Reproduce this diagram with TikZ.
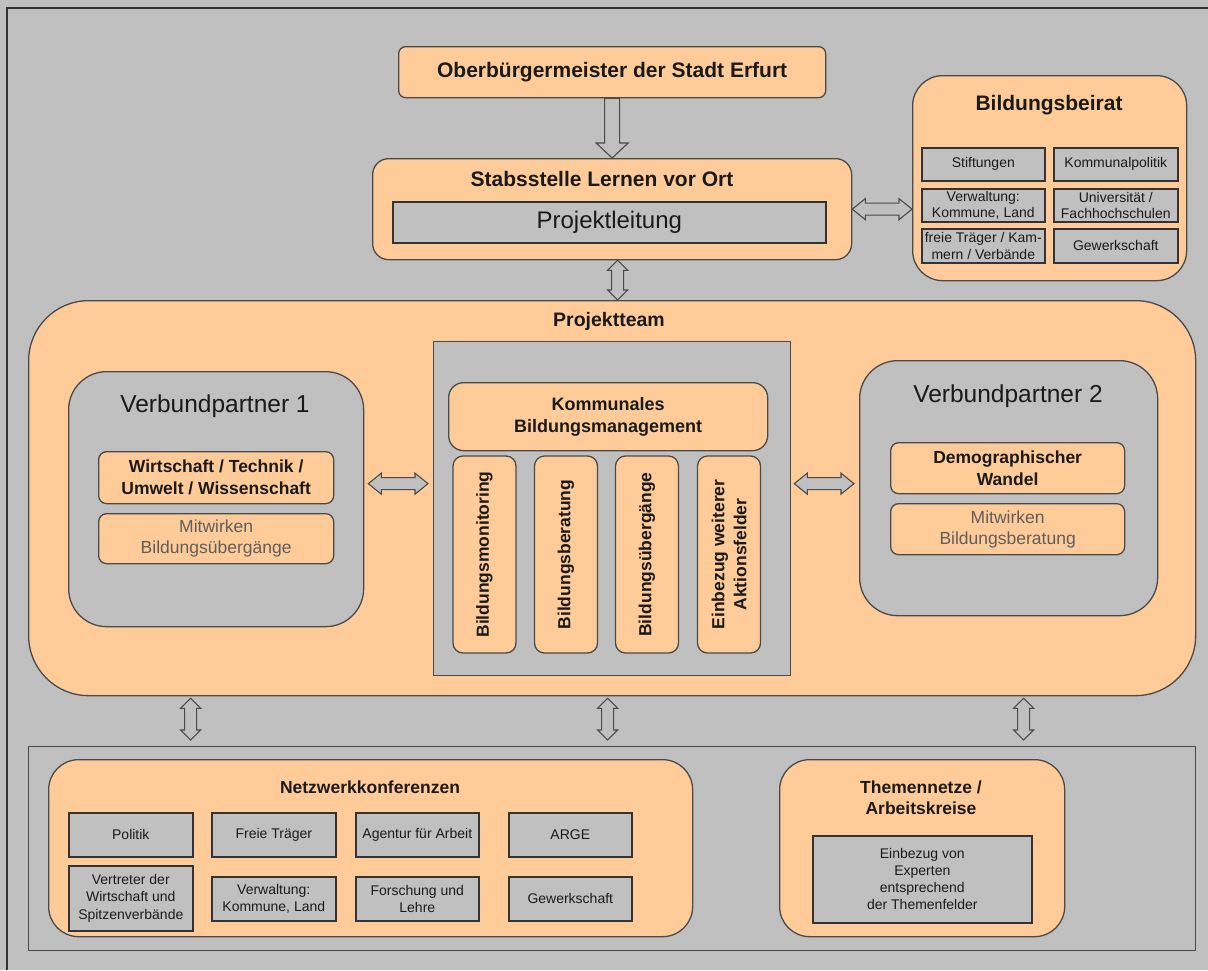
\documentclass[tikz,border=0pt]{standalone}
\usepackage{fontspec}
\setmainfont{Liberation Sans}
\usetikzlibrary{calc}
\definecolor{bg}{HTML}{C0C0C0}
\definecolor{org}{HTML}{FFCC99}
\definecolor{lc}{HTML}{4A4A4A}
\definecolor{dk}{HTML}{333333}
\definecolor{tc}{HTML}{1A1A1A}
\definecolor{mt}{HTML}{5E5E5E}
\newcommand\fs[2]{\fontsize{#1}{#2}\selectfont}
\newcommand\place[7]{\node[#1, anchor=north west, minimum width={(#5)-(#3)}, minimum height={(#6)-(#4)}] (#2) at (#3,#4) {#7};}
% vertical double block arrow between two named points (top, bottom)
\newcommand\vdarrow[2]{\draw[harrow] (#1) -- ++(10,10) -- ++(-4,0) -- ($(#2)+(6,-10)$) -- ++(4,0) -- (#2) -- ++(-10,-10) -- ++(4,0) -- ($(#1)+(-6,10)$) -- ++(-4,0) -- cycle;}
% horizontal double block arrow between two named points (left, right)
\newcommand\hdarrow[2]{\draw[harrow] (#1) -- ++(13,-10.5) -- ++(0,4.5) -- ($(#2)+(-13,-6)$) -- ++(0,-4.5) -- (#2) -- ++(-13,10.5) -- ++(0,-4.5) -- ($(#1)+(13,6)$) -- ++(0,4.5) -- cycle;}
\tikzset{
  obox/.style={draw=lc, fill=org, line width=1.3pt, inner sep=0pt, align=center, text=tc},
  gbox/.style={draw=lc, fill=bg, line width=1.3pt, inner sep=0pt, align=center, text=tc},
  sbox/.style={draw=dk, fill=bg, line width=1.6pt, inner sep=0pt, align=center, text=tc, font=\fs{14}{16.5}},
  nbox/.style={draw=dk, fill=bg, line width=1.6pt, inner sep=0pt, align=center, text=tc, font=\fs{14}{17.5}},
  harrow/.style={draw=lc, fill=bg, line width=1.1pt, line join=miter},
  ttl/.style={inner sep=0pt, text=tc, align=center},
  pillar/.style={obox, rounded corners=10pt, rotate=90, minimum width=197, minimum height=63, font=\bfseries\fs{17.5}{22}}
}
\begin{document}
\begin{tikzpicture}[x=1pt,y=-1pt]
\fill[bg] (0,0) rectangle (1208,970);
\useasboundingbox (0,0) rectangle (1208,970);
\draw[dk, line width=1.5pt] (7,970) -- (7,8) -- (1208,8);

% top
\place{obox, rounded corners=7pt, font=\bfseries\fs{21}{25}}{ob}{398}{46}{825}{97}{Oberbürgermeister der Stadt Erfurt}
\place{obox, rounded corners=16pt}{st}{372}{158}{851}{259}{}
\node[ttl, font=\bfseries\fs{21}{25}] (stt) at (602,179) {Stabsstelle Lernen vor Ort};
\place{gbox, draw=dk, line width=1.6pt, font=\fs{24}{28}}{pl}{392}{201}{825}{242}{Projektleitung}

% Bildungsbeirat
\place{obox, rounded corners=30pt}{bb}{912}{75}{1186}{280}{}
\node[ttl, font=\bfseries\fs{21}{25}] (bbt) at (1049,105) {Bildungsbeirat};
\place{sbox}{b1}{921}{147}{1044}{180}{Stiftungen}
\place{sbox}{b2}{1053}{147}{1177}{180}{Kommunalpolitik}
\place{sbox}{b3}{921}{188}{1044}{221}{Verwaltung:\\Kommune, Land}
\place{sbox}{b4}{1053}{188}{1177}{221}{Universität /\\Fachhochschulen}
\place{sbox}{b5}{921}{228}{1044}{262}{freie Träger / Kam-\\mern / Verbände}
\place{sbox}{b6}{1053}{228}{1177}{262}{Gewerkschaft}

% Projektteam
\place{obox, rounded corners=60pt}{pt}{28}{300}{1195}{695}{}
\node[ttl, font=\bfseries\fs{19.5}{23}] (ptt) at (609,321) {Projektteam};
\place{gbox}{ctr}{433}{341}{790}{675}{}
\place{obox, rounded corners=15pt, font=\bfseries\fs{18}{22}}{km}{448}{382}{767}{450}{Kommunales\\Bildungsmanagement}
\node[pillar] (p1) at (484.5,554.5) {Bildungsmonitoring};
\node[pillar] (p2) at (566,554.5) {Bildungsberatung};
\node[pillar] (p3) at (647,554.5) {Bildungsübergänge};
\node[pillar] (p4) at (729,554.5) {Einbezug weiterer\\Aktionsfelder};

\place{gbox, rounded corners=38pt}{vp1}{68}{371}{363}{626}{}
\node[ttl, font=\fs{24.5}{28}] (vp1t) at (215,406) {Verbundpartner 1};
\place{obox, rounded corners=8pt, font=\bfseries\fs{17.5}{22}}{w1}{98}{451}{333}{503}{Wirtschaft / Technik /\\Umwelt / Wissenschaft}
\place{obox, rounded corners=8pt, font=\fs{17.5}{21}, text=mt}{m1}{98}{513}{333}{563}{Mitwirken\\Bildungsübergänge}

\place{gbox, rounded corners=38pt}{vp2}{859}{360}{1157}{615}{}
\node[ttl, font=\fs{24.5}{28}] (vp2t) at (1008,396) {Verbundpartner 2};
\place{obox, rounded corners=8pt, font=\bfseries\fs{17.5}{22}}{d2}{890}{442}{1124}{493}{Demographischer\\Wandel}
\place{obox, rounded corners=8pt, font=\fs{17.5}{21}, text=mt}{m2}{890}{503}{1124}{554}{Mitwirken\\Bildungsberatung}

% bottom
\place{gbox}{nc}{28}{746}{1195}{950}{}
\place{obox, rounded corners=30pt}{nk}{48}{759}{692}{936}{}
\node[ttl, font=\bfseries\fs{17.5}{22}] (nkt) at (370,787) {Netzwerkkonferenzen};
\place{nbox}{n1}{68}{812}{192}{856}{Politik}
\place{nbox}{n2}{211}{812}{335}{856}{Freie Träger}
\place{nbox}{n3}{355}{812}{478}{856}{Agentur für Arbeit}
\place{nbox}{n4}{508}{812}{631}{856}{ARGE}
\place{nbox}{n5}{68}{865}{192}{930}{Vertreter der\\Wirtschaft und\\Spitzenverbände}
\place{nbox}{n6}{211}{876}{335}{920}{Verwaltung:\\Kommune, Land}
\place{nbox}{n7}{355}{876}{478}{920}{Forschung und\\Lehre}
\place{nbox}{n8}{508}{876}{631}{920}{Gewerkschaft}

\place{obox, rounded corners=30pt}{tn}{779}{759}{1064}{936}{}
\node[ttl, font=\bfseries\fs{17.5}{21}] (tnt) at (921,798) {Themennetze /\\Arbeitskreise};
\place{gbox, draw=dk, line width=1.6pt, font=\fs{14}{17}}{tnb}{812}{835}{1031}{922}{Einbezug von\\Experten\\entsprechend\\der Themenfelder}

% connectors
\draw[harrow] ($(ob.south)+(-7.5,0)$) -- ($(st.north)+(-7.5,-15)$) -- ($(st.north)+(-16,-15)$) -- (st.north) -- ($(st.north)+(16,-15)$) -- ($(st.north)+(7.5,-15)$) -- ($(ob.south)+(7.5,0)$) -- cycle;

\coordinate (a1) at ($(st.south)+(5.5,0)$);
\coordinate (a2) at ($(pt.north)+(5.5,0)$);
\vdarrow{a1}{a2}

\coordinate (h2) at (st.east -| bb.west);
\hdarrow{st.east}{h2}

\coordinate (h3) at ($(vp1.east)+(4,-15.5)$);
\coordinate (h4a) at (h3 -| ctr.west);
\coordinate (h4) at ($(h4a)+(-5,0)$);
\hdarrow{h3}{h4}

\coordinate (h5a) at (ctr.east |- vp2.west);
\coordinate (h5) at ($(h5a)+(3,-4.5)$);
\coordinate (h6) at ($(vp2.west)+(-5,-4.5)$);
\hdarrow{h5}{h6}

\coordinate (v1) at ($(pt.south)+(-421.5,2)$);
\coordinate (w1e) at ($(nc.north)+(-421.5,-6)$);
\vdarrow{v1}{w1e}
\coordinate (v2) at ($(pt.south)+(-4.5,2)$);
\coordinate (w2e) at ($(nc.north)+(-4.5,-6)$);
\vdarrow{v2}{w2e}
\coordinate (v3) at ($(pt.south)+(411.5,2)$);
\coordinate (w3e) at ($(nc.north)+(411.5,-6)$);
\vdarrow{v3}{w3e}
\end{tikzpicture}
\end{document}
